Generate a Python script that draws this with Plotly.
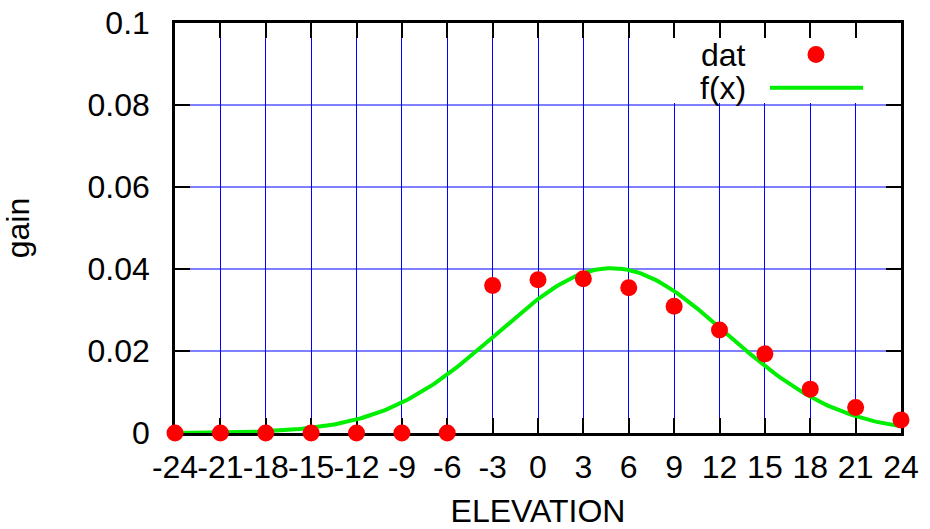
import numpy as np
import plotly.graph_objects as go

# Measured gain at each elevation step
elevation = [-24, -21, -18, -15, -12, -9, -6, -3, 0, 3, 6, 9, 12, 15, 18, 21, 24]
gain = [0.0, 0.0, 0.0, 0.0, 0.0, 0.0, 0.0, 0.0360, 0.0374, 0.0376, 0.0354,
        0.0309, 0.0251, 0.0193, 0.0107, 0.0062, 0.0032]

# Fitted Gaussian f(x): amplitude, centre, width
fit_amp = 0.0402
fit_mu = 4.87
fit_sigma = 7.55

x_ticks = list(range(-24, 25, 3))
y_ticks = [0, 0.02, 0.04, 0.06, 0.08, 0.1]
y_tick_text = ["0", "0.02", "0.04", "0.06", "0.08", "0.1"]

xf = np.linspace(-24, 24, 241)
yf = fit_amp * np.exp(-((xf - fit_mu) ** 2) / (2 * fit_sigma ** 2))

FONT = "Liberation Sans, Arial, sans-serif"
FS = 32
GRID = "#0000ff"

fig = go.Figure()
fig.add_trace(go.Scatter(
    x=xf, y=yf, mode="lines", name="f(x)",
    line=dict(color="#00ee00", width=4), showlegend=False, cliponaxis=False,
))
fig.add_trace(go.Scatter(
    x=elevation, y=gain, mode="markers", name="dat",
    marker=dict(color="#ff0000", size=17), showlegend=False, cliponaxis=False,
))

axis_common = dict(
    showline=True, linecolor="black", linewidth=2.5, mirror="ticks",
    ticks="inside", ticklen=15, tickwidth=2, tickcolor="black",
    zeroline=False,
    tickfont=dict(family=FONT, size=FS, color="black"),
    layer="below traces", tickangle=0,
)

fig.update_xaxes(
    range=[-24, 24], tickmode="array", tickvals=x_ticks,
    ticktext=[str(v) for v in x_ticks], ticklabelstandoff=4,
    showgrid=True, gridcolor=GRID, gridwidth=1,
    title=dict(text="ELEVATION", font=dict(family=FONT, size=FS, color="black"), standoff=20),
    **axis_common,
)
fig.update_yaxes(
    range=[0, 0.1], tickmode="array", tickvals=y_ticks, ticktext=y_tick_text,
    ticklabelstandoff=16, showgrid=False,
    title=dict(text="gain", font=dict(family=FONT, size=FS, color="black"), standoff=52),
    **axis_common,
)

# Horizontal grid lines at the inner y ticks
for yv in y_ticks[1:-1]:
    fig.add_shape(type="line", xref="paper", yref="y", x0=0, x1=1, y0=yv, y1=yv,
                  line=dict(color=GRID, width=1), layer="below")

# Key area: white panel hides the grid behind the key entries
fig.add_shape(type="rect", xref="x", yref="y", x0=7.5, x1=24, y0=0.0805, y1=0.1,
              fillcolor="white", line=dict(width=0), layer="between")
fig.add_annotation(x=13.9, y=0.0923, xref="x", yref="y", text="dat", showarrow=False,
                   xanchor="right", yanchor="middle",
                   font=dict(family=FONT, size=FS, color="black"))
fig.add_annotation(x=13.9, y=0.0842, xref="x", yref="y", text="f(x)", showarrow=False,
                   xanchor="right", yanchor="middle",
                   font=dict(family=FONT, size=FS, color="black"))
fig.add_shape(type="circle", xref="x", yref="y", xsizemode="pixel", ysizemode="pixel",
              xanchor=18.38, yanchor=0.0923, x0=-8.5, x1=8.5, y0=-8.5, y1=8.5,
              fillcolor="#ff0000", line=dict(width=0))
fig.add_shape(type="line", xref="x", yref="y", x0=15.34, x1=21.49, y0=0.0842, y1=0.0842,
              line=dict(color="#00ee00", width=4))

fig.update_layout(
    width=930, height=529,
    margin=dict(l=175, r=29, t=23, b=96, autoexpand=False),
    paper_bgcolor="white", plot_bgcolor="white",
    font=dict(family=FONT, size=FS, color="black"),
)

fig.write_html("out.html")
